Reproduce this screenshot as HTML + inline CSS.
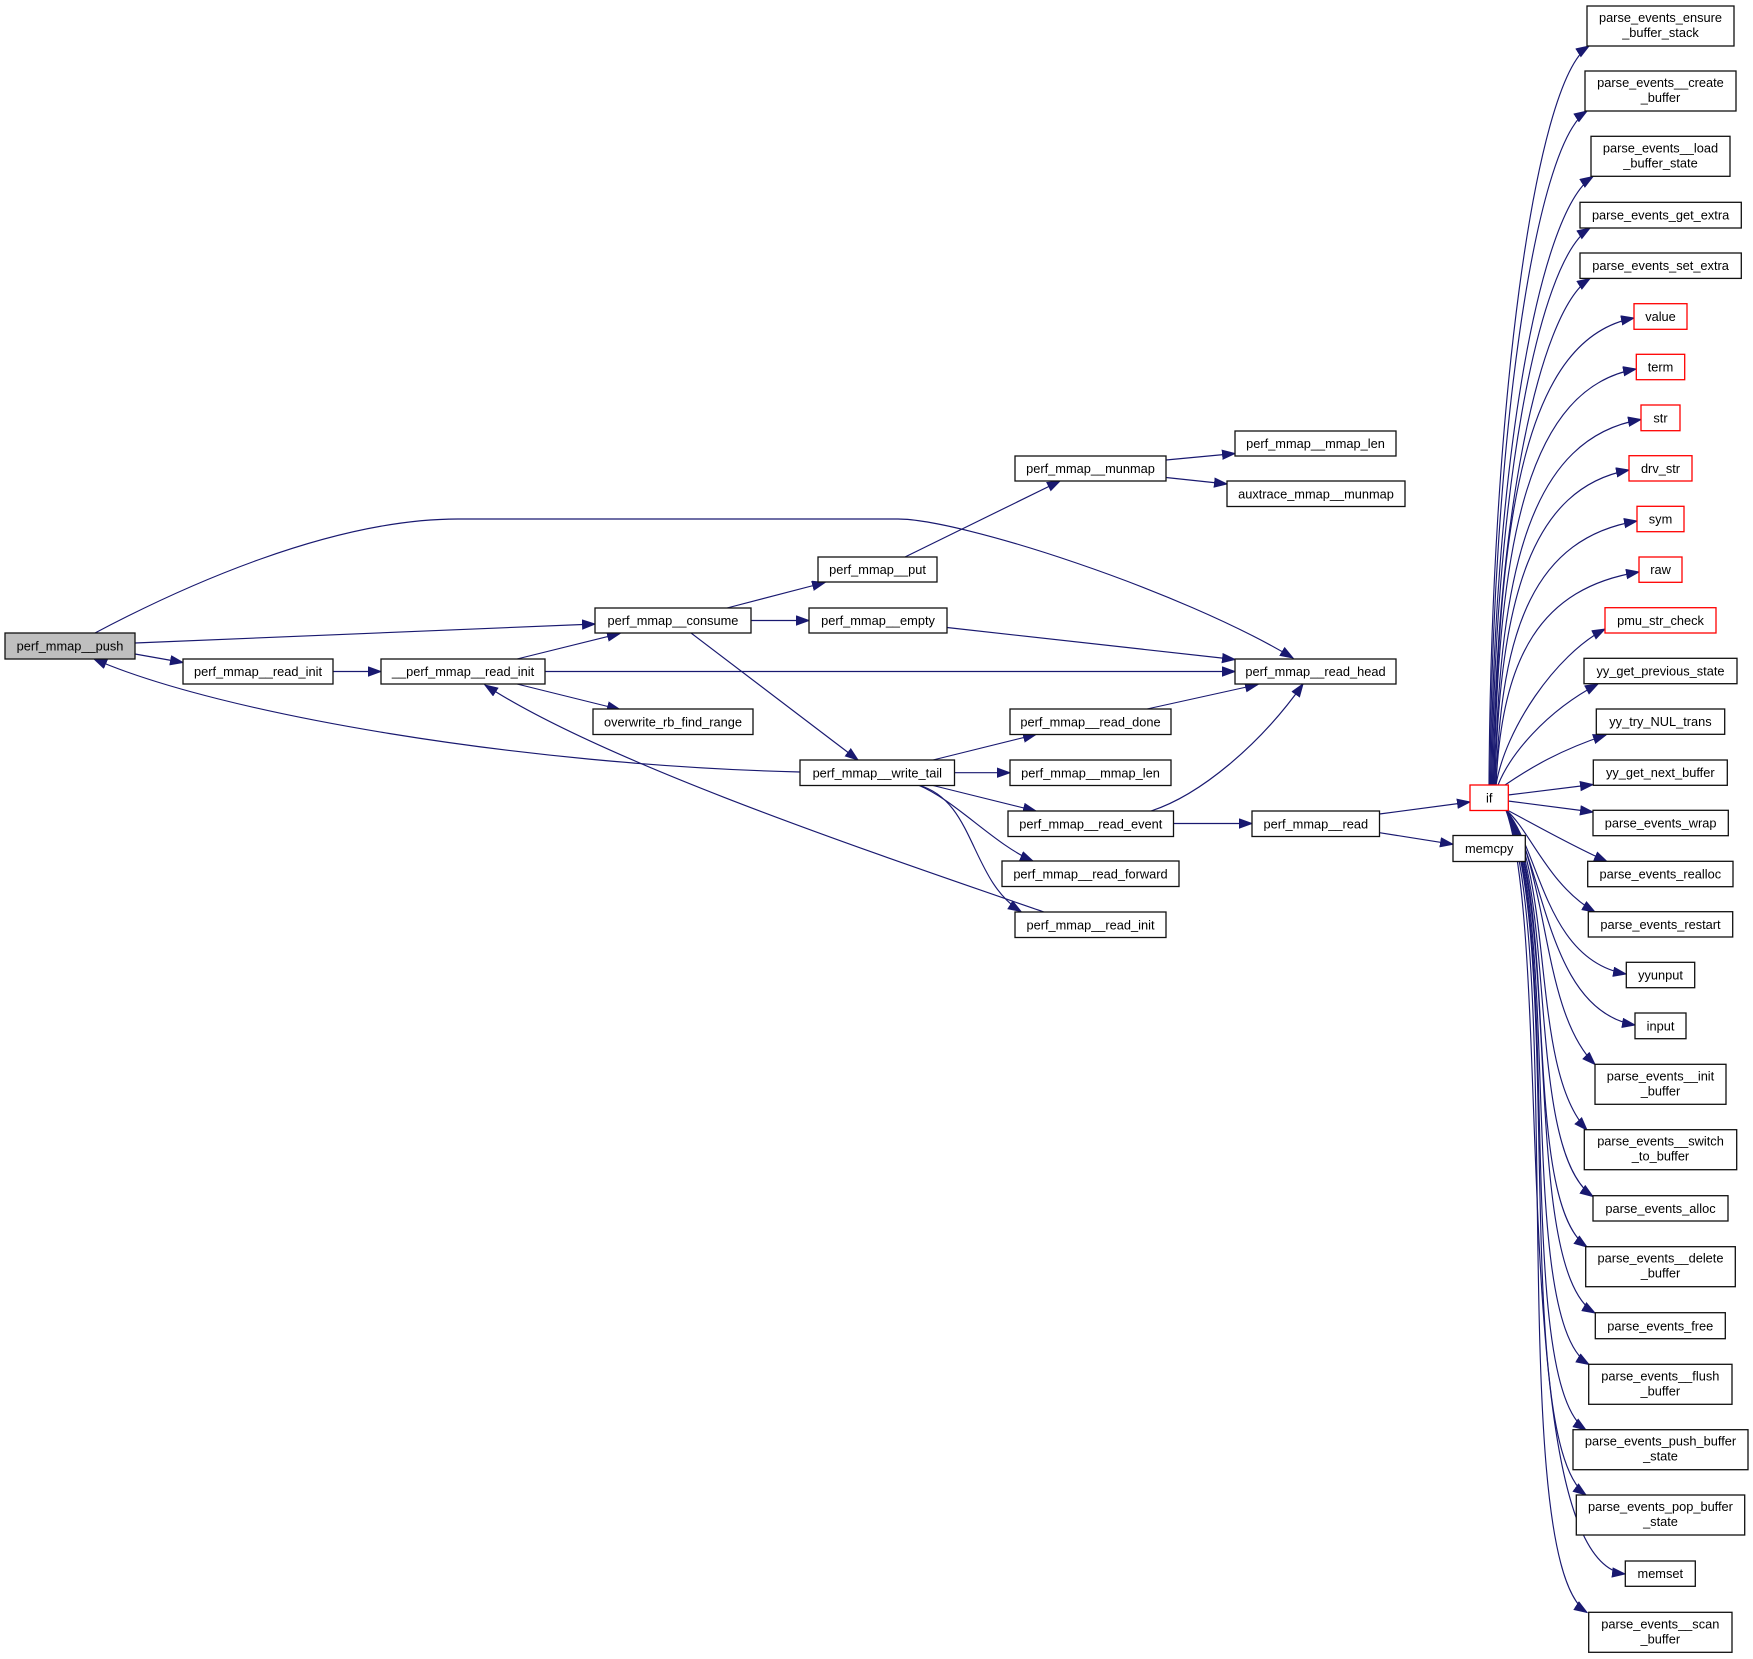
<!DOCTYPE html>
<html><head><meta charset="utf-8"><style>
html,body{margin:0;padding:0;background:#fff;}
svg{display:block;}
text{font-family:"Liberation Sans",Arial,sans-serif;font-size:12.8px;fill:#000;text-anchor:middle;}
.n{fill:#fff;stroke:#111;stroke-width:1.3;}
.r{fill:#fff;stroke:#ff0000;stroke-width:1.3;}
.g{fill:#bfbfbf;stroke:#111;stroke-width:1.3;}
.e{fill:none;stroke:#191970;stroke-width:1.15;marker-end:url(#a);}
</style></head><body>
<svg width="1753" height="1659" viewBox="0 0 1753 1659" xmlns="http://www.w3.org/2000/svg">
<defs>
<marker id="a" markerUnits="userSpaceOnUse" markerWidth="16" markerHeight="12" refX="13" refY="5" orient="auto">
<path d="M0.5,0.5 L13,5 L0.5,9.5 z" fill="#191970" stroke="#191970" stroke-width="1"/>
</marker>
</defs>

<!-- edges left/middle -->
<path class="e" d="M95 633 C180 588 330 519 458 519 L898 519 C960 519 1180 590 1293 658"/>
<path class="e" d="M135 643 L595 624"/>
<path class="e" d="M135 654 L183 662.5"/>
<path class="e" d="M800 772 C520 765 220 714 94 659"/>
<path class="e" d="M333 671.5 L381 671.5"/>
<path class="e" d="M517 659 L620 633.5"/>
<path class="e" d="M545 671.5 L1235 671.5"/>
<path class="e" d="M517 684 L620 709.5"/>
<path class="e" d="M1044 912 C850 845 600 760 485 685"/>
<path class="e" d="M727 608 L825 582.5"/>
<path class="e" d="M751 620.5 L809 620.5"/>
<path class="e" d="M691 633 L858 760"/>
<path class="e" d="M905 557 L1060 481"/>
<path class="e" d="M1166 460 L1235 453.5"/>
<path class="e" d="M1166 477.5 L1227 484"/>
<path class="e" d="M947 627.5 L1235 659.5"/>
<path class="e" d="M933 760 L1036 734.5"/>
<path class="e" d="M954.5 772.7 L1010 772.7"/>
<path class="e" d="M933 785.5 L1036 811"/>
<path class="e" d="M918 785 C955 800 995 845 1033 861"/>
<path class="e" d="M918 785 C975 800 970 880 1021 911.5"/>
<path class="e" d="M1151 811 C1200 795 1260 745 1303 684"/>
<path class="e" d="M1147 709 L1258 684.5"/>
<path class="e" d="M1173.5 823.5 L1252 823.5"/>
<path class="e" d="M1379.5 814 L1470 802"/>
<path class="e" d="M1379.5 832.7 L1453 844.3"/>

<!-- edges from if (upper) -->
<path class="e" d="M1489 785 C1491 415 1534 81 1589 46"/>
<path class="e" d="M1490 785 C1492 448 1534 145 1587 111"/>
<path class="e" d="M1491 785 C1493 481 1537 212 1593 176.5"/>
<path class="e" d="M1492 785 C1494 506 1536 262 1590 228"/>
<path class="e" d="M1493 785 C1495 532 1537 312 1590 278.5"/>
<path class="e" d="M1494 785 C1498 505 1528 338 1634 318"/>
<path class="e" d="M1494 785 C1498 535 1530 388 1636 369"/>
<path class="e" d="M1495 785 C1499 566 1532 438 1641 419.5"/>
<path class="e" d="M1495 785 C1500 596 1532 488 1629 470"/>
<path class="e" d="M1496 785 C1501 627 1535 538 1637 521"/>
<path class="e" d="M1496 785 C1502 657 1540 588 1639 572"/>
<path class="e" d="M1496 785 C1505 730 1555 655 1605 629"/>
<path class="e" d="M1498 785 C1510 755 1545 712 1598 684"/>
<path class="e" d="M1505 785 C1530 768 1560 750 1606 735"/>
<path class="e" d="M1508 795 L1593 784.5"/>
<path class="e" d="M1508 801 L1593 812"/>

<!-- edges from if (lower) -->
<path class="e" d="M1507 810 C1530 822 1570 845 1607 861.5"/>
<path class="e" d="M1506 810 C1530 830 1548 885 1595 912"/>
<path class="e" d="M1506 810 C1540 850 1545 960 1626 974"/>
<path class="e" d="M1506 810 C1545 860 1545 1010 1635 1025"/>
<path class="e" d="M1506 810 C1550 870 1540 1010 1595 1064.5"/>
<path class="e" d="M1506 810 C1555 880 1530 1070 1587 1130"/>
<path class="e" d="M1506 810 C1558 890 1525 1150 1593 1196.5"/>
<path class="e" d="M1506 810 C1560 900 1520 1200 1587 1247"/>
<path class="e" d="M1506 810 C1562 910 1520 1270 1595 1313"/>
<path class="e" d="M1506 810 C1563 920 1515 1320 1589 1364.5"/>
<path class="e" d="M1506 810 C1564 930 1512 1380 1586 1430"/>
<path class="e" d="M1506 810 C1565 940 1510 1440 1586 1495"/>
<path class="e" d="M1506 810 C1555 950 1505 1560 1625 1574"/>
<path class="e" d="M1506 810 C1565 960 1505 1560 1587 1612.5"/>

<!-- nodes left/middle -->
<rect class="g" x="5" y="633" width="130" height="26"/><text x="70" y="650.5">perf_mmap__push</text>
<rect class="n" x="183" y="659" width="150" height="25"/><text x="258" y="676">perf_mmap__read_init</text>
<rect class="n" x="381" y="659" width="164" height="25"/><text x="463" y="676">__perf_mmap__read_init</text>
<rect class="n" x="595" y="608" width="156" height="25"/><text x="673" y="625">perf_mmap__consume</text>
<rect class="n" x="593" y="709" width="160" height="25.5"/><text x="673" y="726.3">overwrite_rb_find_range</text>
<rect class="n" x="818" y="557" width="119" height="25"/><text x="877.5" y="574">perf_mmap__put</text>
<rect class="n" x="809" y="608" width="138" height="25"/><text x="878" y="625">perf_mmap__empty</text>
<rect class="n" x="800" y="760" width="154.5" height="25.5"/><text x="877.3" y="777.3">perf_mmap__write_tail</text>
<rect class="n" x="1015" y="456" width="151" height="25"/><text x="1090.5" y="473">perf_mmap__munmap</text>
<rect class="n" x="1010" y="709" width="161" height="25.5"/><text x="1090.5" y="726.3">perf_mmap__read_done</text>
<rect class="n" x="1010" y="760" width="161" height="25.5"/><text x="1090.5" y="777.3">perf_mmap__mmap_len</text>
<rect class="n" x="1008" y="811" width="165.5" height="25.5"/><text x="1090.8" y="828.3">perf_mmap__read_event</text>
<rect class="n" x="1002" y="861" width="177" height="25.5"/><text x="1090.5" y="878.3">perf_mmap__read_forward</text>
<rect class="n" x="1015" y="912" width="151" height="25.5"/><text x="1090.5" y="929.3">perf_mmap__read_init</text>
<rect class="n" x="1235" y="431" width="161" height="25"/><text x="1315.5" y="448">perf_mmap__mmap_len</text>
<rect class="n" x="1227" y="481" width="178" height="25.5"/><text x="1316" y="498.3">auxtrace_mmap__munmap</text>
<rect class="n" x="1235" y="659" width="161" height="25"/><text x="1315.5" y="676">perf_mmap__read_head</text>
<rect class="n" x="1252" y="811" width="127.5" height="25.5"/><text x="1315.8" y="828.3">perf_mmap__read</text>
<rect class="r" x="1470" y="785" width="38.3" height="25.5"/><text x="1489.2" y="802.3">if</text>
<rect class="n" x="1453" y="835.5" width="72.3" height="26"/><text x="1489.2" y="853">memcpy</text>

<!-- right column -->
<rect class="n" x="1587" y="6" width="147" height="40"/><text x="1660.5" y="22">parse_events_ensure</text><text x="1660.5" y="37">_buffer_stack</text>
<rect class="n" x="1585" y="71" width="151" height="40"/><text x="1660.5" y="87">parse_events__create</text><text x="1660.5" y="102">_buffer</text>
<rect class="n" x="1591" y="136.3" width="139" height="40"/><text x="1660.5" y="152.3">parse_events__load</text><text x="1660.5" y="167.3">_buffer_state</text>
<rect class="n" x="1580" y="202.3" width="161.3" height="25.7"/><text x="1660.6" y="219.6">parse_events_get_extra</text>
<rect class="n" x="1580" y="253" width="161.3" height="25.4"/><text x="1660.6" y="270.2">parse_events_set_extra</text>
<rect class="r" x="1634" y="303.7" width="53" height="25.6"/><text x="1660.5" y="321">value</text>
<rect class="r" x="1636.3" y="354.3" width="48.4" height="25.4"/><text x="1660.5" y="371.5">term</text>
<rect class="r" x="1641" y="405" width="39" height="25.7"/><text x="1660.5" y="422.3">str</text>
<rect class="r" x="1629" y="455.7" width="63" height="25.3"/><text x="1660.5" y="472.8">drv_str</text>
<rect class="r" x="1637" y="506.3" width="47" height="25.4"/><text x="1660.5" y="523.5">sym</text>
<rect class="r" x="1639" y="557" width="43" height="25.3"/><text x="1660.5" y="574.2">raw</text>
<rect class="r" x="1605" y="607.7" width="111" height="25.3"/><text x="1660.5" y="624.8">pmu_str_check</text>
<rect class="n" x="1584" y="658.3" width="153" height="25.4"/><text x="1660.5" y="675.5">yy_get_previous_state</text>
<rect class="n" x="1596.3" y="709" width="128.4" height="25.3"/><text x="1660.5" y="726.2">yy_try_NUL_trans</text>
<rect class="n" x="1593.3" y="760" width="134" height="25.3"/><text x="1660.3" y="777.2">yy_get_next_buffer</text>
<rect class="n" x="1593" y="810.3" width="135.3" height="25.4"/><text x="1660.6" y="827.5">parse_events_wrap</text>
<rect class="n" x="1587.7" y="861.3" width="145.3" height="25.4"/><text x="1660.3" y="878.5">parse_events_realloc</text>
<rect class="n" x="1588.3" y="911.7" width="144.4" height="25.3"/><text x="1660.5" y="928.9">parse_events_restart</text>
<rect class="n" x="1626.3" y="962.3" width="68.4" height="25.4"/><text x="1660.5" y="979.5">yyunput</text>
<rect class="n" x="1635" y="1013" width="51" height="25.7"/><text x="1660.5" y="1030.3">input</text>
<rect class="n" x="1595" y="1064.3" width="131" height="40"/><text x="1660.5" y="1080.3">parse_events__init</text><text x="1660.5" y="1095.3">_buffer</text>
<rect class="n" x="1584.3" y="1129.7" width="152.4" height="40"/><text x="1660.5" y="1145.7">parse_events__switch</text><text x="1660.5" y="1160.7">_to_buffer</text>
<rect class="n" x="1593" y="1195.7" width="135" height="25.3"/><text x="1660.5" y="1212.9">parse_events_alloc</text>
<rect class="n" x="1585.7" y="1246.7" width="149.6" height="40"/><text x="1660.5" y="1262.7">parse_events__delete</text><text x="1660.5" y="1277.7">_buffer</text>
<rect class="n" x="1595.3" y="1312.7" width="130" height="26"/><text x="1660.3" y="1330.3">parse_events_free</text>
<rect class="n" x="1588.7" y="1364.3" width="143.3" height="40"/><text x="1660.3" y="1380.3">parse_events__flush</text><text x="1660.3" y="1395.3">_buffer</text>
<rect class="n" x="1573" y="1429.7" width="175" height="40"/><text x="1660.5" y="1445.7">parse_events_push_buffer</text><text x="1660.5" y="1460.7">_state</text>
<rect class="n" x="1576.3" y="1495" width="168.4" height="40"/><text x="1660.5" y="1511">parse_events_pop_buffer</text><text x="1660.5" y="1526">_state</text>
<rect class="n" x="1625.3" y="1561" width="70" height="25.3"/><text x="1660.3" y="1578.2">memset</text>
<rect class="n" x="1588.7" y="1612.3" width="143.3" height="40"/><text x="1660.3" y="1628.3">parse_events__scan</text><text x="1660.3" y="1643.3">_buffer</text>
</svg>
</body></html>
